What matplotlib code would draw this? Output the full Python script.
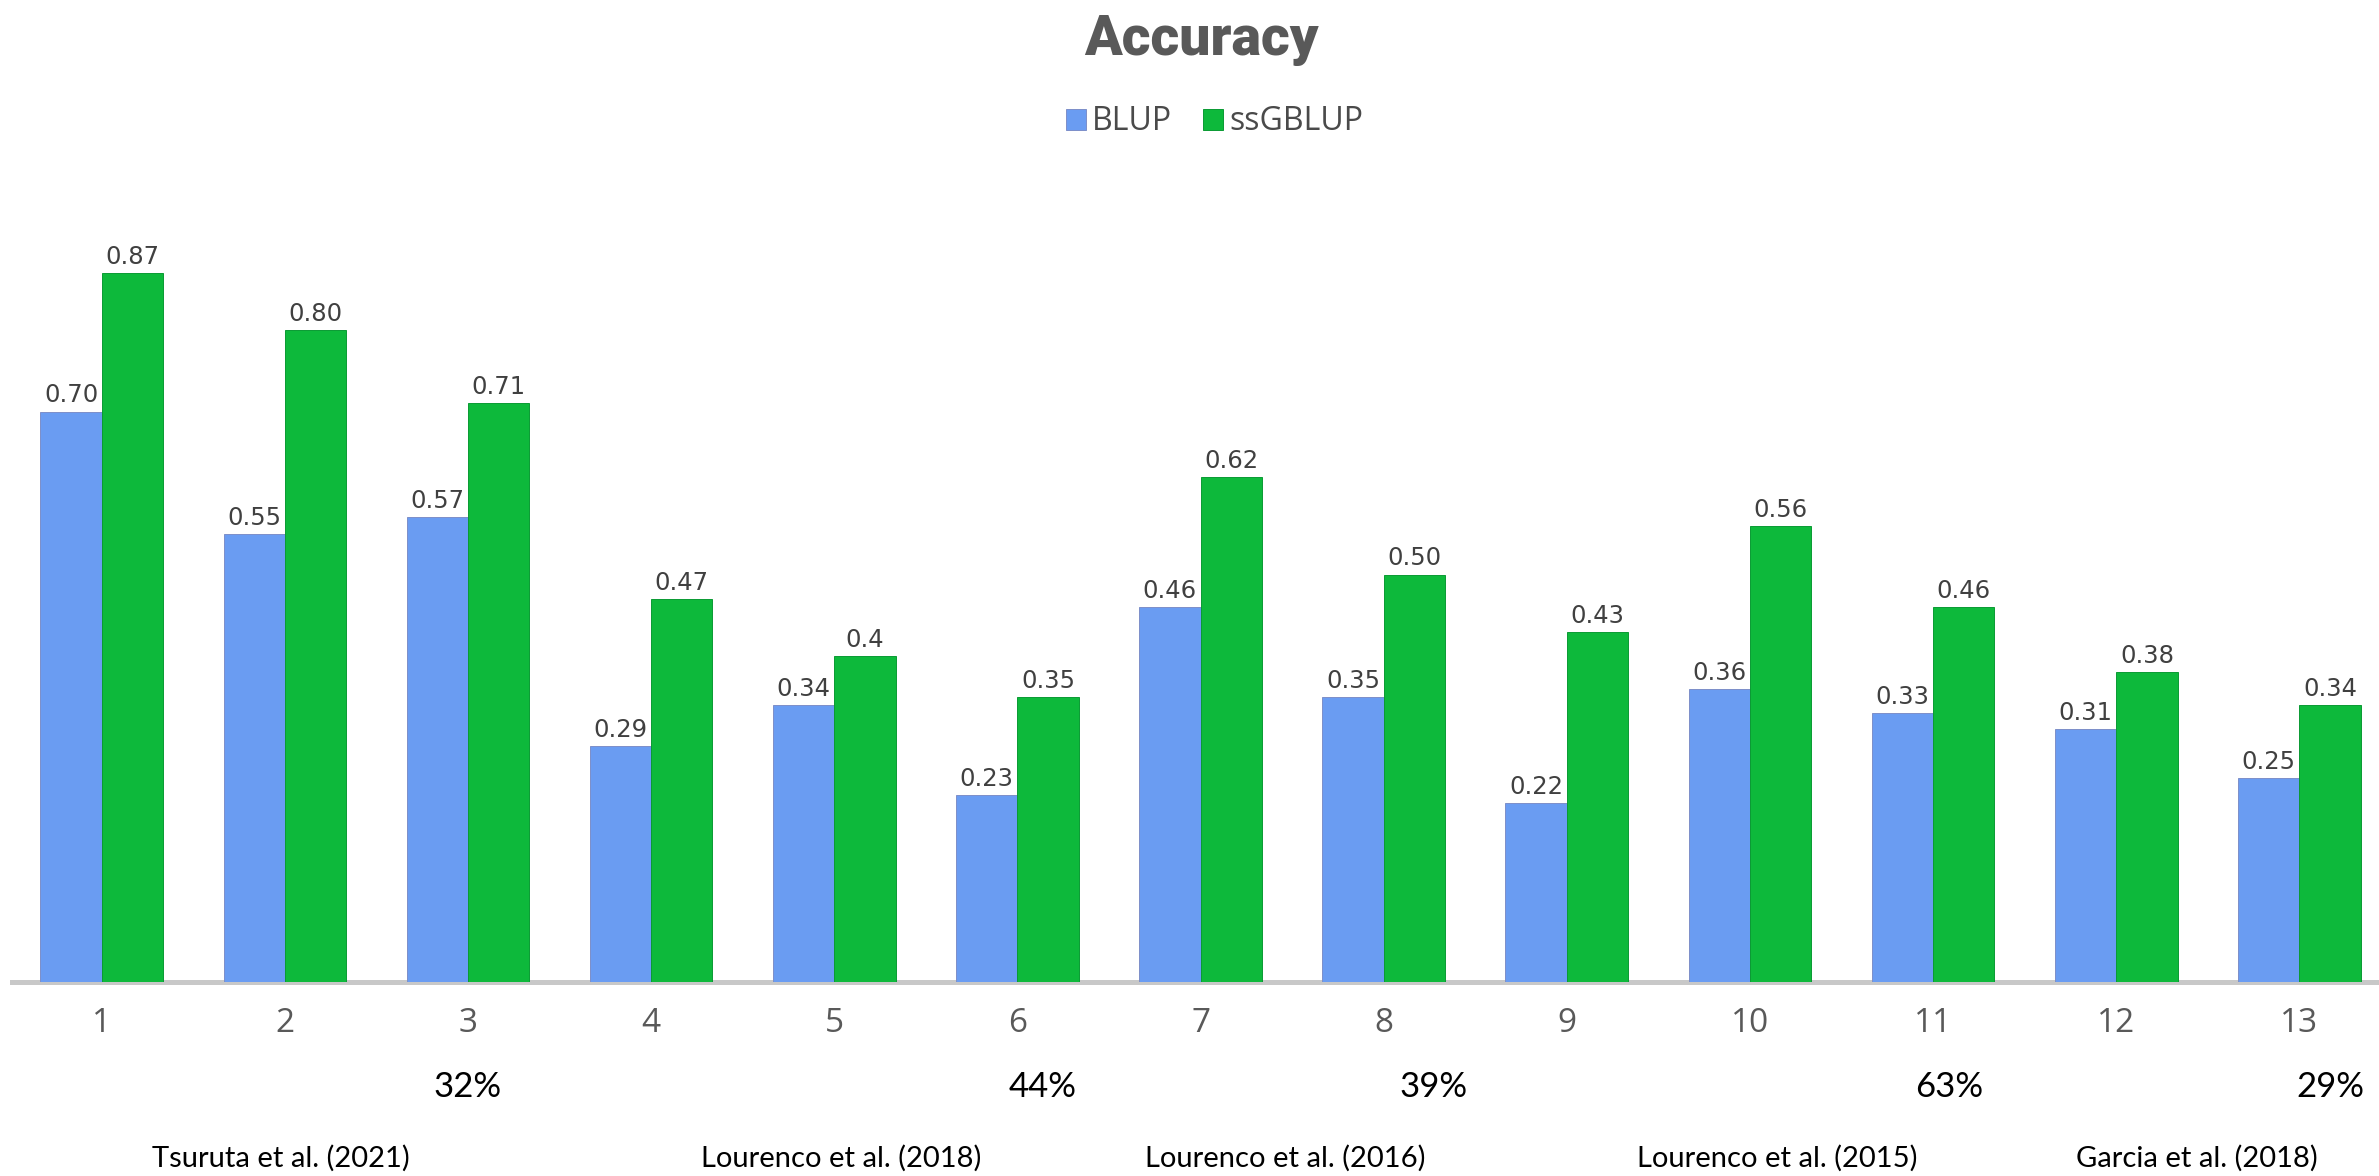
import numpy as np
import matplotlib
matplotlib.use("Agg")
import matplotlib.pyplot as plt
from matplotlib.transforms import blended_transform_factory

# ---- data -------------------------------------------------------------
categories = ["1", "2", "3", "4", "5", "6", "7", "8", "9", "10", "11", "12", "13"]
blup_labels = ["0.70", "0.55", "0.57", "0.29", "0.34", "0.23", "0.46",
               "0.35", "0.22", "0.36", "0.33", "0.31", "0.25"]
ssgblup_labels = ["0.87", "0.80", "0.71", "0.47", "0.4", "0.35", "0.62",
                  "0.50", "0.43", "0.56", "0.46", "0.38", "0.34"]
blup = [float(s) for s in blup_labels]
ssgblup = [float(s) for s in ssgblup_labels]

gains = ["32%", "44%", "39%", "63%", "29%"]
studies = ["Tsuruta et al. (2021)", "Lourenco et al. (2018)",
           "Lourenco et al. (2016)", "Lourenco et al. (2015)",
           "Garcia et al. (2018)"]

# ---- layout (category-index positions for the annotations) -------------
gain_pos = [2.00, 5.14, 7.27, 10.09, 12.17]
study_pos = [0.98, 4.04, 6.46, 9.15, 11.44]

BLUE = "#6a9cf2"
GREEN = "#0db93b"
GREY_TXT = "#595959"

W, H = 2379, 1176
fig = plt.figure(figsize=(W / 100, H / 100), dpi=100)
ax = fig.add_axes([12 / W, 194 / H, 1 - 12 / W, 815 / H])

x = np.arange(len(categories))
bw = 0.335
b1 = ax.bar(x - bw / 2, blup, bw, color=BLUE, edgecolor="#7d8fc9",
            linewidth=0.7, label="BLUP")
b2 = ax.bar(x + bw / 2, ssgblup, bw, color=GREEN, edgecolor="#0a9a33",
            linewidth=0.7, label="ssGBLUP")

# value labels above each bar
for xs, vals, labs in ((x - bw / 2, blup, blup_labels),
                       (x + bw / 2, ssgblup, ssgblup_labels)):
    for xi, v, s in zip(xs, vals, labs):
        ax.annotate(s, (xi, v), xytext=(0, 6.5), textcoords="offset points",
                    ha="center", va="baseline", fontsize=17.5,
                    color="#404040", family="DejaVu Sans")

ax.set_xlim(-0.49, 12.435)
ax.set_ylim(0, 1)
ax.set_xticks(x, categories)
ax.tick_params(axis="x", length=0, pad=18, labelsize=24, labelcolor=GREY_TXT)
for lab in ax.get_xticklabels():
    lab.set_family(["Open Sans", "DejaVu Sans"])
ax.set_yticks([])
for side in ("top", "right", "left"):
    ax.spines[side].set_visible(False)
ax.spines["bottom"].set_color("#c8c8c8")
ax.spines["bottom"].set_linewidth(3.6)
ax.spines["bottom"].set_zorder(0.5)

# title and legend
fig.text(1201 / W, 1 - 55 / H, "Accuracy", ha="center", va="baseline",
         fontsize=40, fontweight="black", color=GREY_TXT,
         family=["Roboto", "DejaVu Sans"])
leg = fig.legend(handles=[b1, b2], labels=["BLUP", "ssGBLUP"], loc="center",
                 bbox_to_anchor=(1214.5 / W, 1 - 122 / H), ncol=2,
                 frameon=False, handlelength=0.62, handleheight=0.62,
                 handletextpad=0.2, columnspacing=0.95, borderpad=0,
                 prop={"family": ["Open Sans", "DejaVu Sans"], "size": 23})
for t in leg.get_texts():
    t.set_color("#4a4a4a")

# gain percentages and study references under the axis
trans = blended_transform_factory(ax.transData, fig.transFigure)
for p, g in zip(gain_pos, gains):
    ax.text(p, 1 - 1097 / H, g, transform=trans, ha="center", va="baseline",
            fontsize=25, color="black", family=["Lato", "DejaVu Sans"],
            clip_on=False)
for p, s in zip(study_pos, studies):
    ax.text(p, 1 - 1167 / H, s, transform=trans, ha="center", va="baseline",
            fontsize=21, color="black", family=["Lato", "DejaVu Sans"],
            clip_on=False)

fig.savefig("out.png", dpi=100, facecolor="white")
